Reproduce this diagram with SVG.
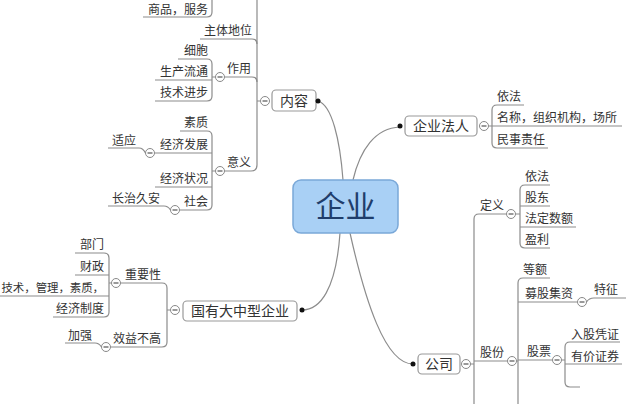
<svg xmlns="http://www.w3.org/2000/svg" width="640" height="404" viewBox="0 0 640 404">
<style>
text{font-family:"Noto Sans CJK SC","Noto Sans",sans-serif;fill:#333;font-size:12px}
.n{font-size:14px}
.e{text-anchor:end}
.m{text-anchor:middle}
.ln{fill:none;stroke:#8c8c8c;stroke-width:1.2}
.box{fill:#fff;stroke:#999;stroke-width:1.2}
.dot{fill:#111}
.cb{fill:#fff;stroke:#888;stroke-width:1}
.cm{stroke:#555;stroke-width:1.2}
</style>
<defs>
<g id="col"><circle class="cb" r="4.5"/><line class="cm" x1="-2.5" y1="0" x2="2.5" y2="0"/></g>
</defs>
<rect width="640" height="404" fill="#fff"/>
<g id="connectors">
<path class="ln" d="M318,101 C332,105 340,140 343,180"/>
<path class="ln" d="M400,127 C375,128 360,150 353,180"/>
<path class="ln" d="M340,233 C336,290 320,310 302,310"/>
<path class="ln" d="M350,233 C365,300 385,364 413,364"/>
<!-- 内容 tree -->
<path class="ln" d="M260.5,101 H257 M257,0 V165 Q257,171 251,171 H224.5"/>
<path class="ln" d="M143,17 H207 Q212,17 212,12 V0"/>
<path class="ln" d="M200,39 H252 Q257,39 257,44"/>
<path class="ln" d="M224.5,77 H252 Q257,77 257,82"/>
<path class="ln" d="M215.5,77 H212 M178,59 H207 Q212,59 212,64 V96 Q212,101 207,101 H155 M155,80 H212"/>
<path class="ln" d="M215.5,171 H212 M180,131 H207 Q212,131 212,136 V205 Q212,210 207,210 H179.5 M154.5,153 H212 M155,187 H212"/>
<path class="ln" d="M108,148 H139 Q143,148 145.5,153"/>
<path class="ln" d="M108,206 H164 Q168,206 170.5,210"/>
<!-- 国有 tree -->
<path class="ln" d="M170.5,310 H167 M120.5,283 H162 Q167,283 167,288 V342 Q167,347 162,347 H110.5"/>
<path class="ln" d="M111.5,283 H109 M75,253 H104 Q109,253 109,258 V312 Q109,317 104,317 H53 M75,275 H109 M0,296 H109"/>
<path class="ln" d="M65,343 H95 Q99,343 101.5,347"/>
<!-- 企业法人 tree -->
<path class="ln" d="M488.5,126 H492 M524,105 H497 Q492,105 492,110 V143 Q492,148 497,148 H548 M492,126 H622"/>
<!-- 公司 tree -->
<path class="ln" d="M470.5,364 H474 M506.5,214 H479 Q474,214 474,219 V404 M474,361 H507.5"/>
<path class="ln" d="M515.5,214 H520 M550,185 H525 Q520,185 520,190 V243 Q520,248 525,248 H550 M520,206 H550 M520,227 H576"/>
<path class="ln" d="M550,278 H523 Q518,278 518,283 V404 M516.5,361 H518 M518,302 H577.5 M518,360 H552.5"/>
<path class="ln" d="M586.5,302 Q589,298 594,298 H626"/>
<path class="ln" d="M561.5,360 H565 M620,342 H570 Q565,342 565,347 V382 Q565,387 570,387 H580 M565,364 H622"/>
</g>
<g id="center">
<rect x="293" y="180" width="105" height="53" rx="8" fill="#a9d0f5" stroke="#7aa8d8" stroke-width="1.5"/>
<text x="345.5" y="217" class="m" style="font-size:30px;fill:#1f3d6b">企业</text>
</g>
<g id="neirong">
<rect class="box" x="272" y="90" width="44" height="21" rx="4"/>
<text x="294" y="106" class="n m">内容</text>
<circle class="dot" cx="318" cy="101" r="2.5"/>
<use href="#col" x="265" y="101"/>
</g>
<g id="shangpin"><text x="208" y="14" class="e">商品，服务</text></g>
<g id="zhuti"><text x="252" y="35" class="e">主体地位</text></g>
<g id="zuoyong"><text x="251" y="73" class="e">作用</text><use href="#col" x="220" y="77"/></g>
<g id="xibao"><text x="208" y="55" class="e">细胞</text></g>
<g id="shengchan"><text x="208" y="76" class="e">生产流通</text></g>
<g id="jishu"><text x="208" y="97" class="e">技术进步</text></g>
<g id="yiyi"><text x="251" y="167" class="e">意义</text><use href="#col" x="220" y="171"/></g>
<g id="suzhi"><text x="208" y="127" class="e">素质</text></g>
<g id="jjfz"><text x="208" y="149" class="e">经济发展</text><use href="#col" x="150" y="153"/></g>
<g id="shiying"><text x="112" y="145">适应</text></g>
<g id="jjzk"><text x="208" y="183" class="e">经济状况</text></g>
<g id="shehui"><text x="208" y="206" class="e">社会</text><use href="#col" x="175" y="210"/></g>
<g id="changzhi"><text x="112" y="203">长治久安</text></g>
<g id="guoyou">
<rect class="box" x="183" y="301" width="114" height="20" rx="4"/>
<text x="240" y="316" class="n m">国有大中型企业</text>
<circle class="dot" cx="302" cy="310" r="2.5"/>
<use href="#col" x="175" y="310"/>
</g>
<g id="zhongyao"><text x="161" y="279" class="e">重要性</text><use href="#col" x="116" y="283"/></g>
<g id="bumen"><text x="104" y="249" class="e">部门</text></g>
<g id="caizheng"><text x="104" y="271" class="e">财政</text></g>
<g id="jishuguanli"><text x="104" y="292" class="e" style="font-size:11.4px">技术，管理，素质，</text></g>
<g id="jjzd"><text x="104" y="313" class="e">经济制度</text></g>
<g id="xiaoyi"><text x="161" y="343" class="e">效益不高</text><use href="#col" x="106" y="347"/></g>
<g id="jiaqiang"><text x="68" y="340">加强</text></g>
<g id="faren">
<rect class="box" x="405" y="116" width="72" height="20" rx="4"/>
<text x="441" y="131" class="n m">企业法人</text>
<circle class="dot" cx="400" cy="126" r="2.5"/>
<use href="#col" x="484" y="126"/>
</g>
<g id="yifa1"><text x="497" y="101">依法</text></g>
<g id="mingcheng"><text x="497" y="122">名称，组织机构，场所</text></g>
<g id="minshi"><text x="497" y="144">民事责任</text></g>
<g id="gongsi">
<rect class="box" x="418" y="354" width="42" height="20" rx="4"/>
<text x="439" y="369" class="n m">公司</text>
<circle class="dot" cx="413" cy="364" r="2.5"/>
<use href="#col" x="466" y="364"/>
</g>
<g id="dingyi"><text x="480" y="210">定义</text><use href="#col" x="511" y="214"/></g>
<g id="yifa2"><text x="525" y="181">依法</text></g>
<g id="gudong"><text x="525" y="202">股东</text></g>
<g id="fading"><text x="525" y="223">法定数额</text></g>
<g id="yingli"><text x="525" y="244">盈利</text></g>
<g id="gufen"><text x="480" y="357">股份</text><use href="#col" x="512" y="361"/></g>
<g id="deng-e"><text x="523" y="274">等额</text></g>
<g id="mugu"><text x="525" y="298">募股集资</text><use href="#col" x="582" y="302"/></g>
<g id="tezheng"><text x="594" y="294">特征</text></g>
<g id="gupiao"><text x="527" y="356">股票</text><use href="#col" x="557" y="360"/></g>
<g id="rugu"><text x="571" y="339">入股凭证</text></g>
<g id="youjia"><text x="571" y="361">有价证券</text></g>
</svg>
